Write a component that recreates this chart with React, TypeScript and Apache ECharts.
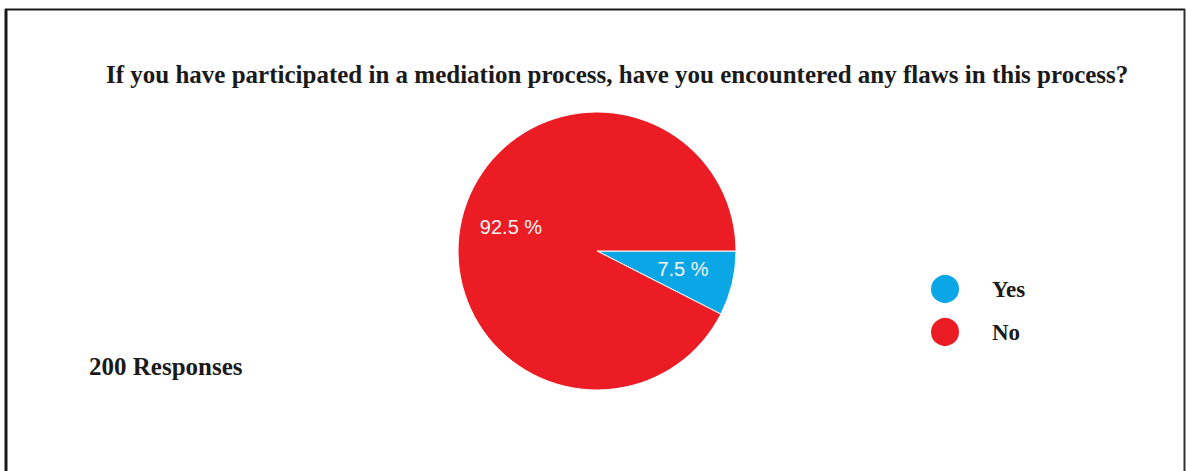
import React, { useEffect, useRef } from "react";
import * as echarts from "echarts";

const titleText =
  "If you have participated in a mediation process, have you encountered any flaws in this process?";
const categories = ["Yes", "No"];
const values = [7.5, 92.5];
const colors = ["#0AA6E6", "#EC1C24"];
const responsesText = "200 Responses";

export default function App() {
  const ref = useRef<HTMLDivElement>(null);
  useEffect(() => {
    if (!ref.current) return;
    const chart = echarts.init(ref.current, null, { renderer: "svg" });
    const cx = 597;
    const cy = 251;
    chart.setOption({
      animation: false,
      backgroundColor: "#ffffff",
      title: {
        text: titleText,
        left: 106,
        top: 62,
        padding: 0,
        textStyle: {
          fontFamily: "Liberation Serif",
          fontWeight: "bold",
          fontSize: 25,
          color: "#1a1a1a",
        },
      },
      legend: {
        orient: "vertical",
        left: 924,
        top: 268,
        itemWidth: 30,
        itemHeight: 30,
        itemGap: 11,
        icon: "circle",
        data: categories,
        textStyle: {
          fontFamily: "Liberation Serif",
          fontWeight: "bold",
          fontSize: 23,
          color: "#1a1a1a",
          padding: [0, 0, 0, 27],
        },
      },
      graphic: [
        { type: "line", shape: { x1: 6, y1: 9, x2: 6, y2: 480 }, style: { stroke: "#1a1a1a", lineWidth: 3 } },
        { type: "line", shape: { x1: 5, y1: 9.5, x2: 1185, y2: 9.5 }, style: { stroke: "#1a1a1a", lineWidth: 2 } },
        { type: "line", shape: { x1: 1184.5, y1: 9, x2: 1184.5, y2: 480 }, style: { stroke: "#333", lineWidth: 2 } },
        {
          type: "text",
          left: 89,
          top: 354,
          style: {
            text: responsesText,
            font: "bold 25px 'Liberation Serif'",
            fill: "#1a1a1a",
          },
        },
      ],
      series: [
        {
          type: "pie",
          center: [cx, cy],
          radius: [0, 139],
          startAngle: 0,
          clockwise: true,
          color: colors,
          itemStyle: { borderColor: "#ffffff", borderWidth: 1 },
          label: {
            show: true,
            position: "inside",
            formatter: (p: any) => `${p.value} %`,
            color: "#f6f6f6",
            fontFamily: "Liberation Sans",
            fontSize: 20,
          },
          labelLine: { show: false },
          labelLayout: (p: any) => {
            const r = p.labelRect;
            const lx = r.x + r.width / 2;
            const ly = r.y + r.height / 2;
            const k = 0.22;
            return { dx: (lx - cx) * k, dy: (ly - cy) * k - 3 };
          },
          data: categories.map((c, i) => ({ name: c, value: values[i] })),
        },
      ],
    });
    return () => chart.dispose();
  }, []);
  return (
    <div
      ref={ref}
      style={{ position: "fixed", left: 0, top: 0, width: 1186, height: 471 }}
    />
  );
}
